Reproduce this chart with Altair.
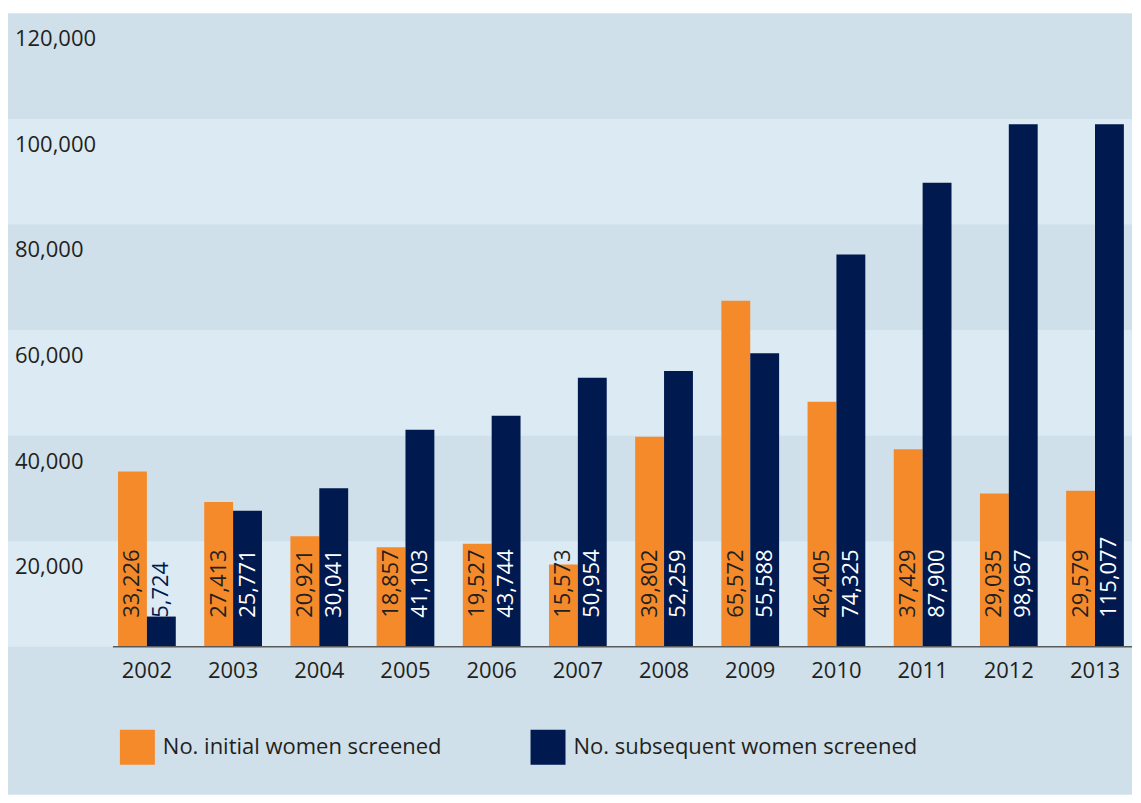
import altair as alt
import pandas as pd

# ---------------- data ----------------
years = [str(y) for y in range(2002, 2014)]
initial = [33226, 27413, 20921, 18857, 19527, 15573, 39802, 65572, 46405, 37429, 29035, 29579]
subsequent = [5724, 25771, 30041, 41103, 43744, 50954, 52259, 55588, 74325, 87900, 98967, 115077]
# In the source graphic the 2013 "subsequent" bar is drawn at the same height as 2012
subsequent_drawn = [5724, 25771, 30041, 41103, 43744, 50954, 52259, 55588, 74325, 87900, 98967, 98967]
series_names = ["No. initial women screened", "No. subsequent women screened"]
y_ticks = [20000, 40000, 60000, 80000, 100000, 120000]
light_band_lo = [0, 40000, 80000]
light_band_hi = [20000, 60000, 100000]

# ---------------- styling ----------------
ORANGE = "#f58a2b"
NAVY = "#00194f"
BG_DARK = "#cfe0ea"
BG_LIGHT = "#dceaf3"
TEXT = "#231f20"
FONT = "Open Sans"
W, H = 1125, 782

rows = []
for i, yr in enumerate(years):
    rows.append(dict(year=yr, series=series_names[0], drawn=initial[i],
                     label=f"{initial[i]:,}", tcolor=TEXT))
    rows.append(dict(year=yr, series=series_names[1], drawn=subsequent_drawn[i],
                     label=f"{subsequent[i]:,}",
                     tcolor="#ffffff" if subsequent_drawn[i] > 20000 else NAVY))
bars_df = pd.DataFrame(rows)
bands_df = pd.DataFrame({"lo": light_band_lo, "hi": light_band_hi})
ticks_df = pd.DataFrame({"v": y_ticks, "t": [f"{v:,}" for v in y_ticks]})
years_df = pd.DataFrame({"year": years})

yscale = alt.Scale(domain=[0, 120000], range=[634, 0], zero=True, nice=False)
xscale = alt.Scale(domain=years, range=[95.9, 1131.1], paddingInner=0.33, paddingOuter=0.165)
xoff = alt.XOffset("series:N", scale=alt.Scale(domain=series_names, paddingInner=0, paddingOuter=0))

bands = alt.Chart(bands_df).mark_rect(color=BG_LIGHT).encode(
    x=alt.value(0), x2=alt.value(W),
    y=alt.Y("lo:Q", scale=yscale, axis=None), y2="hi:Q",
)

ylabels = alt.Chart(ticks_df).mark_text(
    align="left", baseline="middle", dy=26, fontSize=22, color=TEXT, font=FONT
).encode(
    x=alt.value(7),
    y=alt.Y("v:Q", scale=yscale, axis=None),
    text="t:N",
)

bars = alt.Chart(bars_df).mark_bar().encode(
    x=alt.X("year:N", scale=xscale, axis=None),
    xOffset=xoff,
    y=alt.Y("drawn:Q", scale=yscale, axis=None),
    y2=alt.datum(0),
    color=alt.Color(
        "series:N",
        scale=alt.Scale(domain=series_names, range=[ORANGE, NAVY]),
        legend=alt.Legend(
            title=None, orient="none", legendX=112, legendY=717,
            direction="horizontal", symbolType="square", symbolSize=1225,
            symbolStrokeWidth=0, symbolOpacity=1, labelFontSize=22, labelColor=TEXT,
            labelFont=FONT, labelOffset=8, columnPadding=88, labelLimit=1000, padding=0,
        ),
    ),
)

baseline = alt.Chart(years_df.head(1)).mark_rule(color="#5a5a5a", strokeWidth=1.5).encode(
    x=alt.value(105), x2=alt.value(W),
    y=alt.Y("zero:Q", scale=yscale, axis=None),
).transform_calculate(zero="0")

bar_labels = alt.Chart(bars_df).mark_text(
    angle=270, align="left", baseline="middle", dx=29, fontSize=22, font=FONT
).encode(
    x=alt.X("year:N", scale=xscale, axis=None),
    xOffset=xoff,
    y=alt.Y("zero:Q", scale=yscale, axis=None),
    text="label:N",
    color=alt.Color("tcolor:N", scale=None, legend=None),
).transform_calculate(zero="0")

xlabels = alt.Chart(years_df).mark_text(
    baseline="middle", dy=24, fontSize=22, color=TEXT, font=FONT
).encode(
    x=alt.X("year:N", scale=xscale, axis=None),
    y=alt.Y("zero:Q", scale=yscale, axis=None),
    text="year:N",
).transform_calculate(zero="0")

chart = alt.layer(bands, ylabels, bars, baseline, bar_labels, xlabels).properties(
    width=W, height=H,
    padding={"top": 5, "left": 0, "right": 0, "bottom": 0},
).configure(font=FONT).configure_view(fill=BG_DARK, strokeWidth=0)

chart.save("out.html", embed_options={"renderer": "svg", "actions": False})
